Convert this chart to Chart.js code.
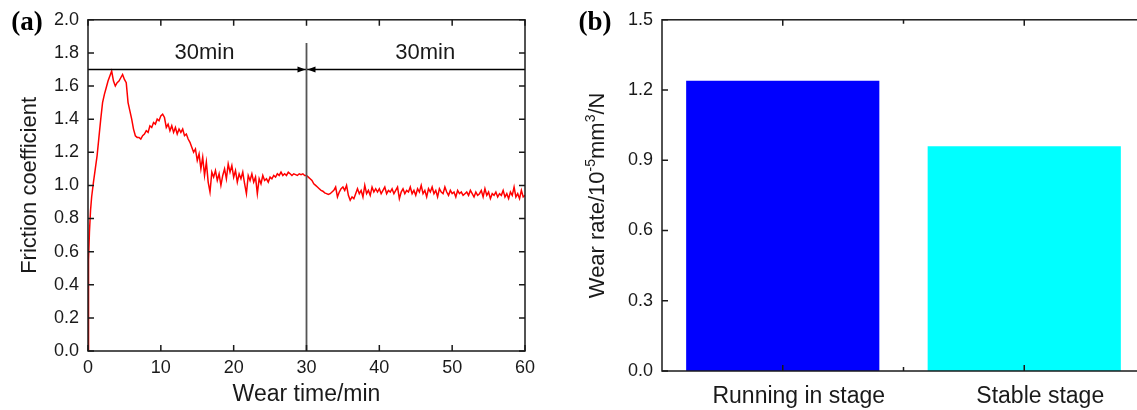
<!DOCTYPE html>
<html>
<head>
<meta charset="utf-8">
<script src="https://cdn.jsdelivr.net/npm/chart.js@4.4.0/dist/chart.umd.min.js"></script>
<style>
    html, body { margin: 0; padding: 0; background: #fff; overflow: hidden; }
    body { width: 1137px; height: 410px; position: relative; }
    #boxA { position: absolute; left: 0; top: 0; width: 560px; height: 410px; }
    #boxB { position: absolute; left: 560px; top: 0; width: 600px; height: 410px; }
</style>
</head>
<body>
<div id="boxA"><canvas id="Friction" width="560" height="410"></canvas></div>
<div id="boxB"><canvas id="WearRate" width="600" height="410"></canvas></div>
<script>
// friction curve, min / coefficient
const wearTime = [
    0, 0.05, 0.1, 0.2, 0.35, 0.5, 0.75, 1,
    1.25, 1.5, 1.75, 2, 2.25, 2.5, 2.75, 3, 3.25, 3.5, 3.75, 4, 4.25, 4.5, 4.75, 5,
    5.25, 5.5, 5.75, 6, 6.25, 6.5, 6.75, 7, 7.25, 7.5, 7.75, 8, 8.25, 8.5, 8.75, 9, 9.25, 9.5, 9.75, 10,
    10.25, 10.5, 10.75, 11, 11.25, 11.5, 11.75, 12, 12.25, 12.5, 12.75, 13, 13.25, 13.5, 13.75, 14, 14.25, 14.5, 14.75, 15,
    15.25, 15.5, 15.75, 16, 16.25, 16.5, 16.75, 17, 17.25, 17.5, 17.75, 18, 18.25, 18.5, 18.75, 19, 19.25, 19.5, 19.75, 20,
    20.25, 20.5, 20.75, 21, 21.25, 21.5, 21.75, 22, 22.25, 22.5, 22.75, 23, 23.25, 23.5, 23.75, 24, 24.25, 24.5, 24.75, 25,
    25.25, 25.5, 25.75, 26, 26.25, 26.5, 26.75, 27, 27.25, 27.5, 27.75, 28, 28.25, 28.5, 28.75, 29, 29.25, 29.5, 29.75, 30,
    30.25, 30.5, 30.75, 31, 31.25, 31.5, 31.75, 32, 32.25, 32.5, 32.75, 33, 33.25, 33.5, 33.75, 34, 34.25, 34.5, 34.75, 35,
    35.25, 35.5, 35.75, 36, 36.25, 36.5, 36.75, 37, 37.25, 37.5, 37.75, 38, 38.25, 38.5, 38.75, 39, 39.25, 39.5, 39.75, 40,
    40.25, 40.5, 40.75, 41, 41.25, 41.5, 41.75, 42, 42.25, 42.5, 42.75, 43, 43.25, 43.5, 43.75, 44, 44.25, 44.5, 44.75, 45,
    45.25, 45.5, 45.75, 46, 46.25, 46.5, 46.75, 47, 47.25, 47.5, 47.75, 48, 48.25, 48.5, 48.75, 49, 49.25, 49.5, 49.75, 50,
    50.25, 50.5, 50.75, 51, 51.25, 51.5, 51.75, 52, 52.25, 52.5, 52.75, 53, 53.25, 53.5, 53.75, 54, 54.25, 54.5, 54.75, 55,
    55.25, 55.5, 55.75, 56, 56.25, 56.5, 56.75, 57, 57.25, 57.5, 57.75, 58, 58.25, 58.5, 58.75, 59, 59.25, 59.5, 59.75, 60
];
const friction = [
    0, 0.35, 0.55, 0.72, 0.85, 0.93, 1.02, 1.10,
    1.18, 1.29, 1.40, 1.50, 1.55, 1.59, 1.63, 1.66, 1.69, 1.63, 1.60, 1.62, 1.63, 1.65, 1.67, 1.64,
    1.62, 1.50, 1.45, 1.40, 1.34, 1.30, 1.29, 1.29, 1.28, 1.30, 1.31, 1.33, 1.32, 1.36, 1.35, 1.38, 1.37, 1.40, 1.39, 1.42,
    1.43, 1.41, 1.35, 1.37, 1.33, 1.36, 1.32, 1.35, 1.31, 1.34, 1.32, 1.34, 1.30, 1.31, 1.28, 1.26, 1.23, 1.20, 1.22, 1.15,
    1.19, 1.10, 1.17, 1.06, 1.14, 1.02, 0.96, 1.08, 1.05, 1.09, 1.03, 1.07, 1.00, 1.06, 1.10, 1.04, 1.13, 1.08, 1.12, 1.05,
    1.09, 1.02, 1.07, 1.04, 1.08, 1.01, 0.95, 1.06, 1.03, 1.07, 1.02, 1.05, 0.95, 1.04, 1.01, 1.06, 1.03, 1.04, 1.02, 1.05,
    1.04, 1.06, 1.05, 1.07, 1.06, 1.08, 1.06, 1.07, 1.06, 1.08, 1.07, 1.06, 1.07, 1.065, 1.06, 1.07, 1.065, 1.07, 1.06, 1.06,
    1.05, 1.04, 1.03, 1.01, 1.00, 0.99, 0.98, 0.97, 0.965, 0.955, 0.95, 0.945, 0.95, 0.96, 0.97, 0.99, 0.93, 0.96, 0.98, 0.99,
    0.97, 1.00, 0.94, 0.91, 0.93, 0.92, 0.95, 0.98, 0.95, 0.97, 0.93, 1.00, 0.95, 0.97, 0.94, 0.99, 0.96, 0.98, 0.96, 0.98,
    0.95, 0.97, 0.99, 0.95, 0.97, 0.96, 0.98, 0.95, 0.97, 0.99, 0.92, 0.96, 0.98, 0.95, 0.97, 0.96, 0.99, 0.95, 0.97, 0.94,
    0.98, 0.96, 1.00, 0.95, 0.97, 0.93, 0.98, 0.96, 0.99, 0.95, 0.97, 0.93, 0.98, 0.96, 0.95, 0.99, 0.96, 0.94, 0.97, 0.95,
    0.96, 0.93, 0.97, 0.95, 0.96, 0.94, 0.95, 0.96, 0.94, 0.97, 0.95, 0.93, 0.96, 0.94, 0.95, 0.97, 0.93, 0.98, 0.94, 0.96,
    0.92, 0.95, 0.94, 0.96, 0.93, 0.95, 0.94, 0.97, 0.93, 0.95, 0.92, 0.96, 0.94, 0.99, 0.93, 0.95, 0.92, 0.97, 0.93, 0.94
];

// the two 30 min stages
const stageBoundary = 30;
const boundaryTop = 1.86;
const stageLevel = 1.7;
const stageText = ['30min', '30min'];
const stageTextX = [16, 46.3];
const stageTextY = 1.8;

// wear rate per stage
const stages = ['Running in stage', 'Stable stage'];
const wearRate = [1.24, 0.96];
const stageColors = ['#0000ff', '#00ffff'];

const family = '"Liberation Sans", Arial, sans-serif';
const ink = '#1a1a1a';

Chart.defaults.font.family = family;
Chart.defaults.color = ink;
Chart.defaults.animation = false;

const frictionPoints = wearTime.map((t, i) => ({x: t, y: friction[i]}));

// frame round the plot with inward ticks, plus stage marks
const frameA = {
    id: 'frameA',
    afterDatasetsDraw(chart) {
        const {ctx, chartArea: a, scales: {x, y}} = chart;
        ctx.save();
        ctx.strokeStyle = ink;
        ctx.lineWidth = 1.5;
        ctx.strokeRect(a.left, a.top, a.right - a.left, a.bottom - a.top);
        ctx.beginPath();
        x.ticks.forEach(t => {
            const px = x.getPixelForValue(t.value);
            ctx.moveTo(px, a.bottom); ctx.lineTo(px, a.bottom - 6);
            ctx.moveTo(px, a.top); ctx.lineTo(px, a.top + 6);
        });
        y.ticks.forEach(t => {
            const py = y.getPixelForValue(t.value);
            ctx.moveTo(a.left, py); ctx.lineTo(a.left + 6, py);
            ctx.moveTo(a.right, py); ctx.lineTo(a.right - 6, py);
        });
        ctx.stroke();

        // arrow heads meeting at the boundary
        const bx = x.getPixelForValue(stageBoundary);
        const by = y.getPixelForValue(stageLevel);
        ctx.fillStyle = '#000';
        ctx.beginPath();
        ctx.moveTo(bx - 1, by); ctx.lineTo(bx - 9, by - 3); ctx.lineTo(bx - 9, by + 3);
        ctx.closePath();
        ctx.moveTo(bx + 1, by); ctx.lineTo(bx + 9, by - 3); ctx.lineTo(bx + 9, by + 3);
        ctx.closePath();
        ctx.fill();

        ctx.fillStyle = ink;
        ctx.font = '22px ' + family;
        ctx.textAlign = 'center';
        ctx.textBaseline = 'middle';
        stageText.forEach((s, i) => {
            ctx.fillText(s, x.getPixelForValue(stageTextX[i]), y.getPixelForValue(stageTextY));
        });

        ctx.font = 'bold 27px "Liberation Serif", "Times New Roman", serif';
        ctx.fillStyle = '#000';
        ctx.fillText('(a)', 27, 23);
        ctx.restore();
    }
};

const chartA = new Chart(document.getElementById('Friction').getContext('2d'), {
    type: 'line',
    data: {
        datasets: [
            {
                data: frictionPoints,
                borderColor: '#ff0000',
                borderWidth: 1.5,
                pointRadius: 0,
                tension: 0,
                fill: false,
                order: 2
            },
            {
                data: [{x: stageBoundary, y: 0}, {x: stageBoundary, y: boundaryTop}],
                borderColor: '#555',
                borderWidth: 1.8,
                pointRadius: 0,
                order: 1
            },
            {
                data: [{x: 0, y: stageLevel}, {x: 60, y: stageLevel}],
                borderColor: '#000',
                borderWidth: 1.3,
                pointRadius: 0,
                order: 1
            }
        ]
    },
    options: {
        responsive: false,
        layout: {padding: {left: 0, right: 35, top: 19, bottom: 0}},
        plugins: {legend: {display: false}, tooltip: {enabled: false}},
        scales: {
            x: {
                type: 'linear',
                min: 0, max: 60,
                grid: {display: false, drawTicks: false},
                border: {display: false},
                ticks: {stepSize: 10, padding: 6, font: {size: 18}, color: ink},
                title: {display: true, text: 'Wear time/min', font: {size: 23}, color: ink, padding: {top: 0, bottom: 2}},
                afterFit: s => { s.height = 59; }
            },
            y: {
                min: 0, max: 2,
                grid: {display: false, drawTicks: false},
                border: {display: false},
                ticks: {stepSize: 0.2, padding: 9, font: {size: 18}, color: ink, callback: v => v.toFixed(1)},
                title: {display: true, text: 'Friction coefficient', font: {size: 22}, color: ink, padding: {top: 17, bottom: 0}},
                afterFit: s => { s.width = 88; }
            }
        }
    },
    plugins: [frameA]
});

// frame, ticks and the axis title with superscripts
const frameB = {
    id: 'frameB',
    afterDatasetsDraw(chart) {
        const {ctx, chartArea: a, scales: {x, y}} = chart;
        ctx.save();
        ctx.strokeStyle = ink;
        ctx.lineWidth = 1.5;
        ctx.strokeRect(a.left, a.top, a.right - a.left, a.bottom - a.top);
        ctx.beginPath();
        y.ticks.forEach(t => {
            const py = y.getPixelForValue(t.value);
            ctx.moveTo(a.left, py); ctx.lineTo(a.left + 6, py);
            ctx.moveTo(a.right, py); ctx.lineTo(a.right - 6, py);
        });
        const centers = stages.map((s, i) => x.getPixelForValue(i));
        centers.forEach(px => {
            ctx.moveTo(px, a.bottom); ctx.lineTo(px, a.bottom - 6);
            ctx.moveTo(px, a.top); ctx.lineTo(px, a.top + 6);
        });
        for (let i = 1; i < centers.length; i++) {
            const px = (centers[i - 1] + centers[i]) / 2;
            ctx.moveTo(px, a.bottom); ctx.lineTo(px, a.bottom - 4);
            ctx.moveTo(px, a.top); ctx.lineTo(px, a.top + 4);
        }
        ctx.stroke();

        // Wear rate/10^-5 mm^3/N, written bottom to top
        const parts = [
            ['Wear rate/10', false], ['-5', true], ['mm', false], ['3', true], ['/N', false]
        ];
        const big = '22px ' + family, small = '14px ' + family;
        let total = 0;
        parts.forEach(p => { ctx.font = p[1] ? small : big; total += ctx.measureText(p[0]).width; });
        ctx.translate(36, (a.top + a.bottom) / 2);
        ctx.rotate(-Math.PI / 2);
        ctx.fillStyle = ink;
        ctx.textAlign = 'left';
        ctx.textBaseline = 'alphabetic';
        let cx = -total / 2;
        parts.forEach(p => {
            ctx.font = p[1] ? small : big;
            ctx.fillText(p[0], cx, p[1] ? -1 : 8);
            cx += ctx.measureText(p[0]).width;
        });
        ctx.restore();

        ctx.save();
        ctx.font = 'bold 27px "Liberation Serif", "Times New Roman", serif';
        ctx.fillStyle = '#000';
        ctx.textAlign = 'center';
        ctx.textBaseline = 'middle';
        ctx.fillText('(b)', 35, 23);
        ctx.restore();
    }
};

const chartB = new Chart(document.getElementById('WearRate').getContext('2d'), {
    type: 'bar',
    data: {
        labels: stages,
        datasets: [{
            data: wearRate,
            backgroundColor: stageColors,
            borderWidth: 0,
            barPercentage: 0.8,
            categoryPercentage: 1.0
        }]
    },
    options: {
        responsive: false,
        layout: {padding: {left: 0, right: 15, top: 19, bottom: 0}},
        plugins: {legend: {display: false}, tooltip: {enabled: false}},
        scales: {
            x: {
                grid: {display: false, drawTicks: false},
                border: {display: false},
                ticks: {padding: 12, labelOffset: 16, font: {size: 23}, color: ink},
                afterFit: s => { s.height = 39; }
            },
            y: {
                min: 0, max: 1.5,
                grid: {display: false, drawTicks: false},
                border: {display: false},
                ticks: {stepSize: 0.3, padding: 9, font: {size: 18}, color: ink, callback: v => v.toFixed(1)},
                afterFit: s => { s.width = 102; }
            }
        }
    },
    plugins: [frameB]
});
</script>
</body>
</html>
